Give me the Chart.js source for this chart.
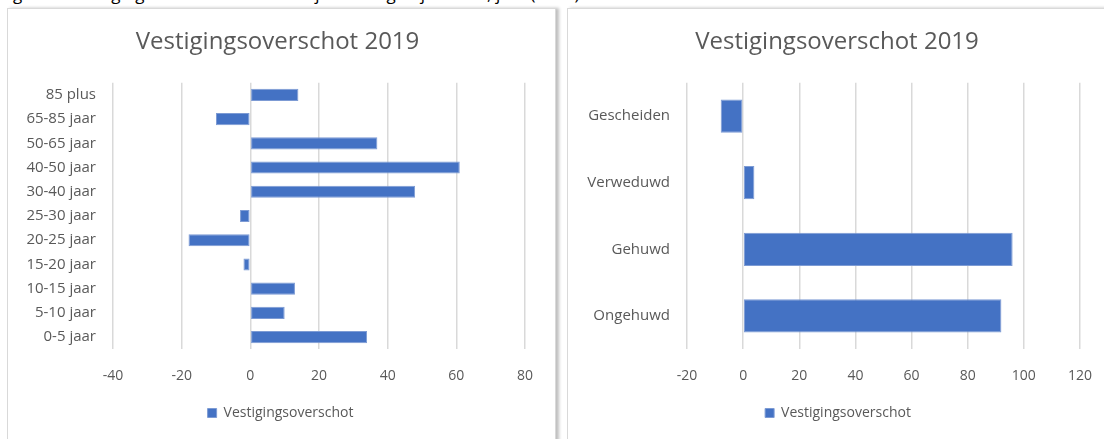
<!DOCTYPE html>
<html lang="nl">
<head>
    <meta charset="UTF-8">
    <title>Vestigingsoverschot 2019</title>
    <style>
        body {
            margin: 0;
            width: 1104px;
            height: 439px;
            overflow: hidden;
            background: #fff;
            position: relative;
            font-family: "Open Sans", sans-serif;
        }
        .caption {
            position: absolute;
            left: 0;
            top: -18px;
            font-size: 17px;
            color: #000;
            white-space: nowrap;
        }
        .panel {
            position: absolute;
            top: 8px;
            height: 440px;
            border: 1px solid #d9d9d9;
            background: #fff;
            box-shadow: 3px 0 3px rgba(0,0,0,0.25);
        }
        #leftPanel { left: 7px; width: 547px; }
        #rightPanel { left: 567px; width: 560px; }
        canvas { display: block; }
    </style>
    <script src="https://cdn.jsdelivr.net/npm/chart.js"></script>
</head>
<body>
    <div class="caption">Figuur 6: Vestigingsoverschot naar leeftijd en burgerlijke staat, jaar (2019)</div>
    <div class="panel" id="leftPanel"><canvas id="leeftijdChart" width="547" height="431"></canvas></div>
    <div class="panel" id="rightPanel"><canvas id="staatChart" width="546" height="431"></canvas></div>

    <script>
        // Data
        const seriesName = 'Vestigingsoverschot';
        const titleText = 'Vestigingsoverschot 2019';

        const leeftijdLabels = ['85 plus', '65-85 jaar', '50-65 jaar', '40-50 jaar', '30-40 jaar', '25-30 jaar',
            '20-25 jaar', '15-20 jaar', '10-15 jaar', '5-10 jaar', '0-5 jaar'];
        const leeftijdValues = [14, -10, 37, 61, 48, -3, -18, -2, 13, 10, 34];
        const leeftijdTicks = [-40, -20, 0, 20, 40, 60, 80];

        const staatLabels = ['Gescheiden', 'Verweduwd', 'Gehuwd', 'Ongehuwd'];
        const staatValues = [-8, 4, 96, 92];
        const staatTicks = [-20, 0, 20, 40, 60, 80, 100, 120];

        const barColor = '#4472C4';
        const textColor = '#595959';
        const gridColor = '#d9d9d9';

        // titel en legenda een stukje naar rechts schuiven (zoals in Excel)
        function schuifPlugin(titelDx, legendaDx) {
            return {
                id: 'schuif',
                afterLayout(chart) {
                    if (chart.titleBlock) {
                        chart.titleBlock.left += titelDx;
                        chart.titleBlock.right += titelDx;
                    }
                    if (chart.legend) {
                        chart.legend.left += legendaDx;
                        chart.legend.right += legendaDx;
                    }
                }
            };
        }

        // maak een liggend staafdiagram
        function maakChart(id, labels, values, ticks, yWidth, padRight, titelDx, legendaDx) {
            const ctx = document.getElementById(id).getContext('2d');
            return new Chart(ctx, {
                type: 'bar',
                data: {
                    labels: labels,
                    datasets: [{
                        label: seriesName,
                        data: values,
                        backgroundColor: barColor,
                        borderColor: '#7d9bd4',
                        borderWidth: 1,
                        borderSkipped: false,
                        barPercentage: 0.5,
                        categoryPercentage: 1.0
                    }]
                },
                options: {
                    indexAxis: 'y',
                    responsive: false,
                    animation: false,
                    layout: { padding: { left: 0, right: padRight, top: 0, bottom: 10 } },
                    scales: {
                        x: {
                            min: ticks[0],
                            max: ticks[ticks.length - 1],
                            afterBuildTicks: function (scale) {
                                scale.ticks = ticks.map(v => ({ value: v }));
                            },
                            grid: { color: gridColor, lineWidth: 1.5, drawTicks: false },
                            border: { display: false },
                            ticks: { color: textColor, padding: 18, font: { family: 'Open Sans', size: 14 } }
                        },
                        y: {
                            afterFit: function (scale) { scale.width = yWidth; },
                            grid: { display: false },
                            border: { display: false },
                            ticks: { color: textColor, padding: 9, font: { family: 'Open Sans', size: 15 } }
                        }
                    },
                    plugins: {
                        title: {
                            display: true,
                            text: titleText,
                            color: textColor,
                            font: { family: 'Open Sans', size: 24, weight: 'normal' },
                            padding: { top: 19, bottom: 26 }
                        },
                        legend: {
                            position: 'bottom',
                            labels: {
                                color: textColor,
                                boxWidth: 9,
                                boxHeight: 9,
                                padding: 4,
                                font: { family: 'Open Sans', size: 14 }
                            }
                        },
                        tooltip: { enabled: false }
                    }
                },
                plugins: [schuifPlugin(titelDx, legendaDx)]
            });
        }

        maakChart('leeftijdChart', leeftijdLabels, leeftijdValues, leeftijdTicks, 105, 30, 11, 14);
        maakChart('staatChart', staatLabels, staatValues, staatTicks, 119, 34, 13, 14);
    </script>
</body>
</html>
